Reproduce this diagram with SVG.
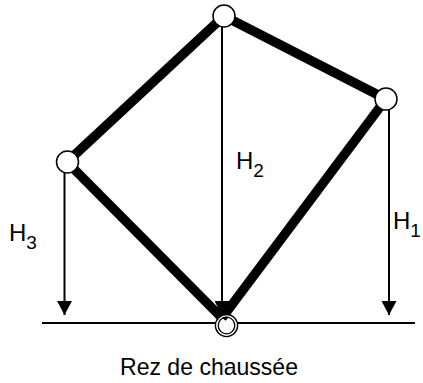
<svg xmlns="http://www.w3.org/2000/svg" width="423" height="383" viewBox="0 0 423 383">
<defs>
<style>
.beam{stroke:#000;stroke-width:9.5;stroke-linecap:butt;fill:none}
.dim{stroke:#000;stroke-width:2;fill:none}
.ground{stroke:#000;stroke-width:2}
.joint{fill:#fff;stroke:#000;stroke-width:1.5}
.lbl{font-family:"Liberation Sans",Arial,sans-serif;font-size:24px;fill:#000}
.sub{font-size:19px}
</style>
<marker id="arr" markerWidth="16" markerHeight="15" refX="15" refY="8" orient="auto" markerUnits="userSpaceOnUse" viewBox="0 0 15 16">
<path d="M0,0 L15,8 L0,16 Z" fill="#000"/>
</marker>
</defs>
<rect width="423" height="383" fill="#fff"/>
<line class="ground" x1="42" y1="323" x2="415" y2="323"/>
<circle cx="226.5" cy="325.5" r="11" fill="#fff"/>
<g id="connectors">
<line class="beam" x1="67" y1="162" x2="224" y2="16"/>
<line class="beam" x1="224" y1="16" x2="386" y2="99"/>
<line class="beam" x1="386" y1="99" x2="222" y2="318"/>
<line class="beam" x1="67" y1="162" x2="222" y2="318"/>
<line class="dim" x1="64.5" y1="172" x2="64.5" y2="315" marker-end="url(#arr)"/>
<line class="dim" x1="222" y1="27" x2="222" y2="315" marker-end="url(#arr)"/>
<line class="dim" x1="389" y1="109" x2="389" y2="315" marker-end="url(#arr)"/>
</g>
<g id="node-top"><circle class="joint" cx="224" cy="16" r="11"/></g>
<g id="node-left"><circle class="joint" cx="67.5" cy="162" r="11"/></g>
<g id="node-right"><circle class="joint" cx="386" cy="99" r="11"/></g>
<g id="node-bottom">
<circle cx="226.5" cy="325.5" r="11" fill="none" stroke="#000" stroke-width="1.5"/>
<circle cx="226.5" cy="325.5" r="9.6" fill="none" stroke="#fff" stroke-width="1.3"/>
<circle cx="226.5" cy="325.5" r="8.3" fill="none" stroke="#000" stroke-width="1.3"/>
</g>
<g id="labels">
<text class="lbl" x="236" y="169">H<tspan class="sub" dy="8">2</tspan></text>
<text class="lbl" x="393" y="229">H<tspan class="sub" dy="8">1</tspan></text>
<text class="lbl" x="9" y="241">H<tspan class="sub" dy="8">3</tspan></text>
<text class="lbl" x="120" y="375" textLength="178" lengthAdjust="spacingAndGlyphs">Rez de chaussée</text>
</g>
</svg>
